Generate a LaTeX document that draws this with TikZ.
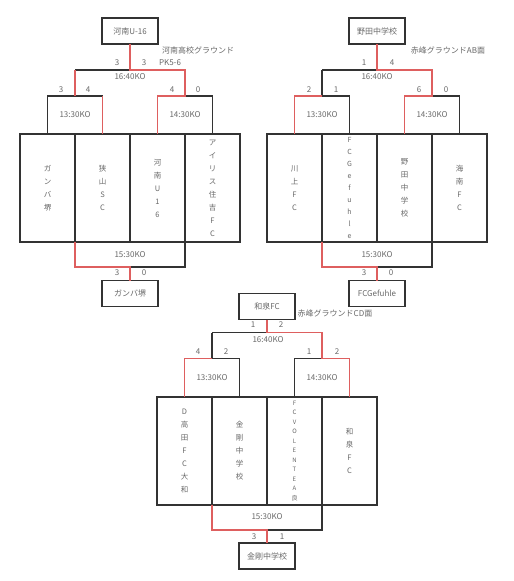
\documentclass[tikz,border=0pt]{standalone}
\usepackage{fontspec}
\setmainfont{Noto Sans CJK JP}
\definecolor{linec}{RGB}{51,51,51}
\definecolor{redc}{RGB}{222,95,95}
\definecolor{txt}{RGB}{105,105,105}
\tikzset{
  lbl/.style={font=\fontsize{8}{9}\selectfont, text=txt, inner sep=0},
  topbox/.style={draw=linec, line width=1.3pt, minimum width=56pt, minimum height=26pt, inner sep=0, outer sep=0, font=\fontsize{8}{9}\selectfont, text=txt},
  team/.style={draw=linec, line width=1.3pt, minimum width=55pt, minimum height=108pt, inner sep=0, outer sep=0, align=center, text=txt, font=\fontsize{7.5}{13}\selectfont},
  blk/.style={draw=linec, line width=1.3pt},
  rd/.style={draw=redc, line width=1.3pt}
}
\begin{document}
\begin{tikzpicture}[x=1pt,y=-1pt]
\useasboundingbox[fill=white] (0,0) rectangle (514,581);

% ---------------- Bracket 1 ----------------
\begin{scope}
\node[topbox] (w1) at (130,31) {河南U-16};
\node[team] (a1) at (47.5,188) {ガ\\ン\\バ\\堺};
\node[team] (a2) at (102.5,188) {狭\\山\\S\\C};
\node[team] (a3) at (157.5,188) {河\\南\\U\\1\\6};
\node[team] (a4) at (212.5,188) {ア\\イ\\リ\\ス\\住\\吉\\F\\C};
\node[topbox] (f1) at (130,293.5) {ガンバ堺};
\coordinate (k1) at (130,70); \coordinate (kl1) at (75,70); \coordinate (kr1) at (185,70);
\coordinate (sl1) at (75,96); \coordinate (sr1) at (185,96);
\coordinate (s1a) at (47.5,96); \coordinate (s1b) at (102.5,96);
\coordinate (s1c) at (157.5,96); \coordinate (s1d) at (212.5,96);
\coordinate (q1l) at (75,267); \coordinate (q1m) at (130,267); \coordinate (q1r) at (185,267);
\draw[blk] (kl1) -- (k1);
\draw[blk] (a1.north) -- (s1a) -- (s1b);
\draw[blk] (sr1) -- (s1d) -- (a4.north);
\draw[blk] (q1m) -- (q1r) -- (a3.south east);
\draw[rd] (w1.south) -- (k1) -- (kr1) -- (sr1) -- (s1c) -- (a3.north);
\draw[rd] (kl1) -- (sl1);
\draw[rd] (s1b) -- (a2.north);
\draw[rd] (a1.south east) -- (q1l) -- (q1m) -- (f1.north);
\node[lbl] (n1) at (117,63) {3};
\node[lbl] (n2) at (144,63) {3};
\node[lbl] (n3) at (170,63) {PK5-6};
\node[lbl] (n4) at (198,50) {河南高校グラウンド};
\node[lbl] (n5) at (130,76.5) {16:40KO};
\node[lbl] (n6) at (61,90) {3};
\node[lbl] (n7) at (88,90) {4};
\node[lbl] (n8) at (75,115) {13:30KO};
\node[lbl] (n9) at (172,90) {4};
\node[lbl] (n10) at (198,90) {0};
\node[lbl] (n11) at (185,115) {14:30KO};
\node[lbl] (n12) at (130,255) {15:30KO};
\node[lbl] (n13) at (117,273) {3};
\node[lbl] (n14) at (144,273) {0};
\end{scope}

% ---------------- Bracket 2 ----------------
\begin{scope}[shift={(247,0)}]
\node[topbox] (w2) at (130,31) {野田中学校};
\node[team] (a5) at (47.5,188) {川\\上\\F\\C};
\node[team, font=\fontsize{7}{12}\selectfont] (a6) at (102.5,188) {F\\C\\G\\e\\f\\u\\h\\l\\e};
\node[team] (a7) at (157.5,188) {野\\田\\中\\学\\校};
\node[team] (a8) at (212.5,188) {海\\南\\F\\C};
\node[topbox] (f2) at (130,293.5) {FCGefuhle};
\coordinate (k2) at (130,70); \coordinate (kl2) at (75,70); \coordinate (kr2) at (185,70);
\coordinate (sl2) at (75,96); \coordinate (sr2) at (185,96);
\coordinate (s2a) at (47.5,96); \coordinate (s2b) at (102.5,96);
\coordinate (s2c) at (157.5,96); \coordinate (s2d) at (212.5,96);
\coordinate (q2l) at (75,267); \coordinate (q2m) at (130,267); \coordinate (q2r) at (185,267);
\draw[blk] (kl2) -- (k2);
\draw[blk] (kl2) -- (sl2) -- (s2b) -- (a6.north);
\draw[blk] (sr2) -- (s2d) -- (a8.north);
\draw[blk] (q2m) -- (q2r) -- (a7.south east);
\draw[rd] (w2.south) -- (k2) -- (kr2) -- (sr2) -- (s2c) -- (a7.north);
\draw[rd] (sl2) -- (s2a) -- (a5.north);
\draw[rd] (a5.south east) -- (q2l) -- (q2m) -- (f2.north);
\node[lbl] (m1) at (117,63) {1};
\node[lbl] (m2) at (145,63) {4};
\node[lbl] (m4) at (201,50) {赤峰グラウンドAB面};
\node[lbl] (m5) at (130,76.5) {16:40KO};
\node[lbl] (m6) at (62,90) {2};
\node[lbl] (m7) at (89,90) {1};
\node[lbl] (m8) at (75,115) {13:30KO};
\node[lbl] (m9) at (172,90) {6};
\node[lbl] (m10) at (199,90) {0};
\node[lbl] (m11) at (185,115) {14:30KO};
\node[lbl] (m12) at (130,255) {15:30KO};
\node[lbl] (m13) at (117,273) {3};
\node[lbl] (m14) at (144,273) {0};
\end{scope}

% ---------------- Bracket 3 ----------------
\begin{scope}[shift={(137,263)}]
\node[topbox] (w3) at (130,43.5) {和泉FC};
\node[team] (a9) at (47.5,188) {D\\高\\田\\F\\C\\大\\和};
\node[team] (a10) at (102.5,188) {金\\剛\\中\\学\\校};
\node[team, font=\fontsize{6}{9.5}\selectfont] (a11) at (157.5,188) {F\\C\\V\\O\\L\\E\\N\\T\\E\\A\\良};
\node[team] (a12) at (212.5,188) {和\\泉\\F\\C};
\node[topbox] (f3) at (130,293) {金剛中学校};
\coordinate (k3) at (130,69.5); \coordinate (kl3) at (75,69.5); \coordinate (kr3) at (185,69.5);
\coordinate (sl3) at (75,95.5); \coordinate (sr3) at (185,95.5);
\coordinate (s3a) at (47.5,95.5); \coordinate (s3b) at (102.5,95.5);
\coordinate (s3c) at (157.5,95.5); \coordinate (s3d) at (212.5,95.5);
\coordinate (q3l) at (75,267); \coordinate (q3m) at (130,267); \coordinate (q3r) at (185,267);
\draw[blk] (kl3) -- (k3);
\draw[blk] (kl3) -- (sl3) -- (s3b) -- (a10.north);
\draw[blk] (a11.north) -- (s3c) -- (sr3);
\draw[blk] (q3m) -- (q3r) -- (a11.south east);
\draw[rd] (w3.south) -- (k3) -- (kr3) -- (sr3) -- (s3d) -- (a12.north);
\draw[rd] (sl3) -- (s3a) -- (a9.north);
\draw[rd] (a9.south east) -- (q3l) -- (q3m) -- (f3.north);
\node[lbl] (p1) at (116,62) {1};
\node[lbl] (p2) at (144,62) {2};
\node[lbl] (p4) at (198,50) {赤峰グラウンドCD面};
\node[lbl] (p5) at (131,77) {16:40KO};
\node[lbl] (p6) at (61,89) {4};
\node[lbl] (p7) at (89,89) {2};
\node[lbl] (p8) at (75,115) {13:30KO};
\node[lbl] (p9) at (172,89) {1};
\node[lbl] (p10) at (200,89) {2};
\node[lbl] (p11) at (185,115) {14:30KO};
\node[lbl] (p12) at (130,254) {15:30KO};
\node[lbl] (p13) at (117,274) {3};
\node[lbl] (p14) at (145,274) {1};
\end{scope}
\end{tikzpicture}
\end{document}
